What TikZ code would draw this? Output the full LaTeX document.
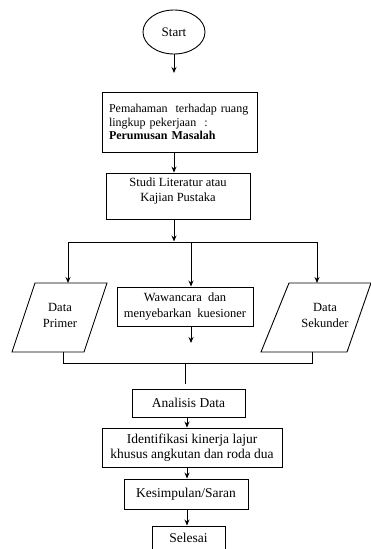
\documentclass[tikz,border=0pt]{standalone}
\usepackage{fontspec}
\setmainfont{Liberation Serif}
\usetikzlibrary{arrows.meta,shapes.geometric}
\begin{document}
\begin{tikzpicture}[x=1pt,y=-1pt,line width=0.9pt,
  box/.style={draw,rectangle,inner sep=2pt,align=center},
  arr/.style={-{Stealth[length=6pt,width=5pt]}},
  fA/.style={font=\fontsize{12}{13.5}\selectfont},
  fB/.style={font=\fontsize{12.5}{15.5}\selectfont},
  fC/.style={font=\fontsize{13.5}{15}\selectfont}]
\clip (0,0) rectangle (371,549);
\fill[white] (0,0) rectangle (371,549);
% start
\node[draw,ellipse,minimum width=62pt,minimum height=44pt,inner sep=0pt,font=\fontsize{13}{15}\selectfont] (start) at (174,32) {Start};
\coordinate (s1) at (174,73);
\draw[arr] (start.south) -- (s1);
% box 1
\node[box,fA,minimum width=155pt,minimum height=60pt,text width=141pt,align=left] (b1) at (179.5,122)
  {Pemahaman\ \ terhadap ruang\\lingkup pekerjaan\ \ :\\\textbf{Perumusan Masalah}\\[-3pt]};
% box 2
\node[box,fB,minimum width=144pt,minimum height=46pt] (b2) at (178,196) {Studi Literatur atau\\Kajian Pustaka\\[-3pt]};
\draw[arr] (b1.south -| start) -- (b2.north -| start);
% junction
\coordinate (jt) at (174,241.5);
\coordinate (jl) at (68,242);
\coordinate (jm) at (191,242);
\coordinate (jr) at (317,242);
\draw[arr] (b2.south -| jt) -- (jt);
\draw (jl) -- (jr);
% left parallelogram
\coordinate (pTL) at (35,283); \coordinate (pTR) at (107,283);
\coordinate (pBR) at (84,352); \coordinate (pBL) at (12,352);
\draw (pTL) -- (pTR) -- (pBR) -- (pBL) -- cycle;
\node[fB,align=center] (dp) at (60,315.5) {Data\\Primer};
\coordinate (dpT) at (68,283); \coordinate (dpB) at (63,352);
% right parallelogram
\coordinate (qTL) at (289,283); \coordinate (qTR) at (371,283);
\coordinate (qBR) at (347,352); \coordinate (qBL) at (261,352);
\draw (qTL) -- (qTR) -- (qBR) -- (qBL) -- cycle;
\node[fB,align=center] (ds) at (325,315.5) {Data\\Sekunder};
\coordinate (dsT) at (317,283); \coordinate (dsB) at (312,352);
% middle box
\node[box,fB,minimum width=136pt,minimum height=39pt] (mid) at (185,306.5) {Wawancara\ \ dan\\menyebarkan\ \ kuesioner};
\draw[arr] (jl) -- (dpT);
\draw[arr] (jm) -- (mid.north -| jm);
\draw[arr] (jr) -- (dsT);
\coordinate (m1) at (191,343);
\draw[arr] (mid.south -| jm) -- (m1);
% collector
\coordinate (kl) at (63,363); \coordinate (kr) at (312,363);
\coordinate (km) at (185,363); \coordinate (ka) at (185,384);
\draw (dpB) -- (kl) -- (kr) -- (dsB);
\draw (km) -- (ka);
% lower boxes
\node[box,fC,minimum width=113pt,minimum height=28pt] (an) at (188.5,403) {Analisis Data};
\node[box,fC,minimum width=180pt,minimum height=39pt] (id) at (192,447.5) {Identifikasi kinerja lajur\\khusus angkutan dan roda dua};
\node[box,fC,minimum width=124pt,minimum height=30pt] (ks) at (186,494) {Kesimpulan/Saran};
\node[box,fC,minimum width=73pt,minimum height=24pt] (sl) at (188.5,538) {Selesai};
\coordinate (ax) at (187,0);
\draw[arr] (an.south -| ax) -- (id.north -| ax);
\draw[arr] (id.south -| ax) -- (ks.north -| ax);
\draw[arr] (ks.south -| ax) -- (sl.north -| ax);
\end{tikzpicture}
\end{document}
